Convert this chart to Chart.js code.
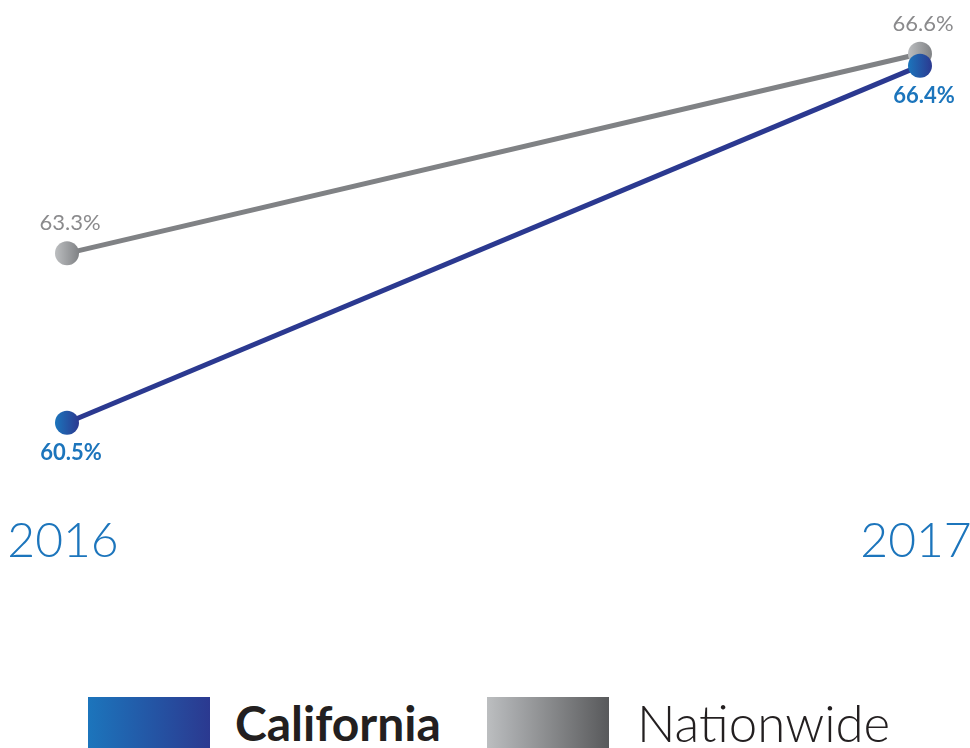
<!DOCTYPE html>
<html>
<head>
<meta charset="utf-8">
<script src="https://cdn.jsdelivr.net/npm/chart.js@4.4.0/dist/chart.umd.min.js"></script>
<style>
  html, body { margin: 0; padding: 0; background: #ffffff; }
  body { width: 970px; height: 748px; position: relative; overflow: hidden; font-family: "Lato", "Noto Sans", sans-serif; }
  #wrap { position: absolute; left: 0; top: 0; width: 970px; height: 600px; }
  .legend { position: absolute; top: 697px; height: 51px; display: flex; align-items: center; }
  .swatch { width: 122px; height: 51px; }
  .ltext { color: #231f20; margin-left: 25px; line-height: 51px; }
</style>
</head>
<body>
<div id="wrap"><canvas id="c"></canvas></div>
<div class="legend" style="left:88px;">
  <div class="swatch" style="background:linear-gradient(to right,#1c75bc,#2b3990);"></div>
  <div class="ltext" style="font-weight:bold;font-size:48px;">California</div>
</div>
<div class="legend" style="left:487px;">
  <div class="swatch" style="background:linear-gradient(to right,#bcbec0,#58595b);"></div>
  <div class="ltext" style="font-weight:300;font-size:51px;margin-left:28px;">Nationwide</div>
</div>
<script>
const years = ["2016", "2017"];
const californiaValues = [60.5, 66.4];
const nationwideValues = [63.3, 66.6];
const seriesNames = ["California", "Nationwide"];

function pointGradient(ctx, c1, c2) {
  const chart = ctx.chart;
  const xs = chart.scales && chart.scales.x;
  if (!xs || ctx.dataIndex === undefined) return c2;
  const x = xs.getPixelForValue(ctx.dataIndex);
  if (!isFinite(x)) return c2;
  const g = chart.ctx.createLinearGradient(x - 12, 0, x + 12, 0);
  g.addColorStop(0, c1);
  g.addColorStop(1, c2);
  return g;
}

const labelPlugin = {
  id: 'valueLabels',
  afterDatasetsDraw(chart) {
    const ctx = chart.ctx;
    chart.data.datasets.forEach((ds, i) => {
      const meta = chart.getDatasetMeta(i);
      meta.data.forEach((pt, j) => {
        const txt = ds.data[j].toFixed(1) + '%';
        ctx.save();
        ctx.textAlign = 'center';
        if (ds.label === 'California') {
          ctx.font = 'bold 22px Lato, "Noto Sans", sans-serif';
          ctx.fillStyle = '#1c75bc';
          ctx.textBaseline = 'top';
          ctx.fillText(txt, pt.x + 4, pt.y + 19);
        } else {
          ctx.font = '22px Lato, "Noto Sans", sans-serif';
          ctx.fillStyle = '#8a8a8c';
          ctx.textBaseline = 'bottom';
          ctx.fillText(txt, pt.x + 3, pt.y - 19);
        }
        ctx.restore();
      });
    });
  }
};

new Chart(document.getElementById('c'), {
  type: 'line',
  data: {
    labels: years,
    datasets: [
      {
        label: seriesNames[0],
        data: californiaValues,
        borderColor: '#2b3990',
        borderWidth: 5,
        pointRadius: 12,
        pointHoverRadius: 12,
        pointBorderWidth: 0,
        pointBackgroundColor: (ctx) => pointGradient(ctx, '#1c75bc', '#2b3990'),
        tension: 0
      },
      {
        label: seriesNames[1],
        data: nationwideValues,
        borderColor: '#808285',
        borderWidth: 5,
        pointRadius: 12,
        pointHoverRadius: 12,
        pointBorderWidth: 0,
        pointBackgroundColor: (ctx) => pointGradient(ctx, '#bcbec0', '#808285'),
        tension: 0
      }
    ]
  },
  options: {
    responsive: true,
    maintainAspectRatio: false,
    animation: false,
    layout: { padding: { left: 67, right: 50, top: 0, bottom: 0 } },
    plugins: { legend: { display: false }, tooltip: { enabled: false } },
    scales: {
      x: {
        offset: false,
        grid: { display: false, drawTicks: false },
        border: { display: false },
        ticks: {
          color: '#1c75bc',
          font: { family: 'Lato, "Noto Sans", sans-serif', size: 48, weight: '300' },
          padding: 8,
          labelOffset: -4,
          maxRotation: 0,
          autoSkip: false
        },
        afterFit(scale) {
          scale.height = 95;
          scale.paddingLeft = 0;
          scale.paddingRight = 0;
        }
      },
      y: {
        display: false,
        min: 59.14,
        max: 67.29
      }
    }
  },
  plugins: [labelPlugin]
});
</script>
</body>
</html>
